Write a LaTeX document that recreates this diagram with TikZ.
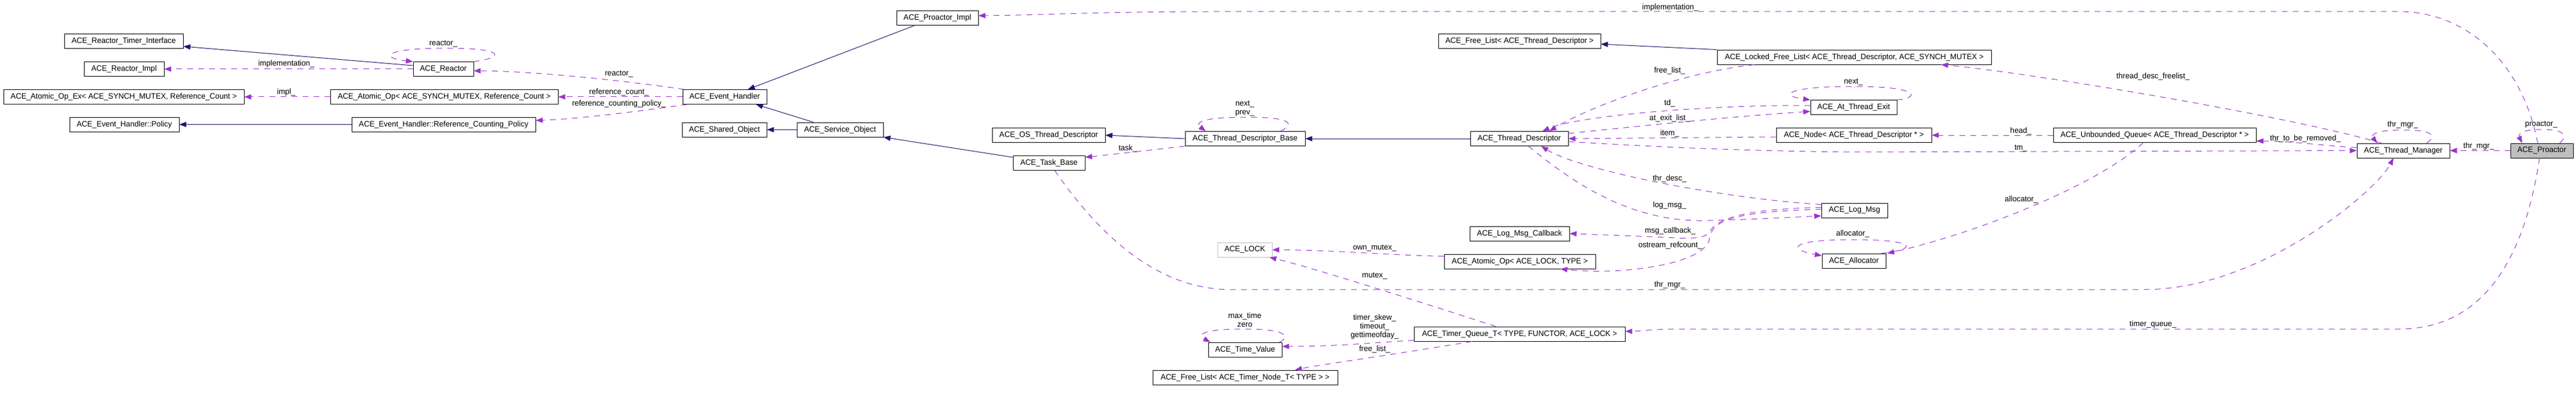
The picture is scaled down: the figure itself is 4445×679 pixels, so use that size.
\documentclass[tikz,border=0pt]{standalone}
\usepackage{fontspec}
\setmainfont{Liberation Sans}[FakeStretch=0.97]
\usetikzlibrary{arrows.meta}
\definecolor{inhcol}{HTML}{191970}
\definecolor{usecol}{HTML}{9A32CD}
\definecolor{graycol}{HTML}{BFBFBF}
\begin{document}
\begin{tikzpicture}[x=1pt,y=-1pt,
  box/.style={draw=black, line width=0.9pt, minimum height=25pt, inner sep=0pt, font=\fontsize{13.6}{15}\selectfont},
  lbl/.style={font=\fontsize{13.6}{15}\selectfont, inner sep=0pt, align=center},
  inh/.style={draw=inhcol, line width=1pt, -{Triangle[length=12pt,width=9pt]}},
  use/.style={draw=usecol, line width=1pt, dash pattern=on 10pt off 9pt, -{Triangle[length=12pt,width=9pt]}}]
\useasboundingbox[fill=white] (0,0) rectangle (4445,679);

% nodes
\node[box, minimum width=205pt] (RTI) at (213.5,71) {ACE\_Reactor\_Timer\_Interface};
\node[box, minimum width=138pt] (RImpl) at (214,119) {ACE\_Reactor\_Impl};
\node[box, minimum width=415pt] (AOEx) at (213.5,167) {ACE\_Atomic\_Op\_Ex< ACE\_SYNCH\_MUTEX, Reference\_Count >};
\node[box, minimum width=189pt] (Policy) at (214.5,214.5) {ACE\_Event\_Handler::Policy};
\node[box, minimum width=104pt] (Reactor) at (765,119) {ACE\_Reactor};
\node[box, minimum width=393pt] (AO) at (766.5,167) {ACE\_Atomic\_Op< ACE\_SYNCH\_MUTEX, Reference\_Count >};
\node[box, minimum width=317pt] (RCP) at (765.5,214.5) {ACE\_Event\_Handler::Reference\_Counting\_Policy};
\node[box, minimum width=145pt] (EH) at (1250.5,167) {ACE\_Event\_Handler};
\node[box, minimum width=146pt] (ShO) at (1250,223.5) {ACE\_Shared\_Object};
\node[box, minimum width=149pt] (SvO) at (1449.5,223.5) {ACE\_Service\_Object};
\node[box, minimum width=141pt] (PImpl) at (1617.5,30.5) {ACE\_Proactor\_Impl};
\node[box, minimum width=195pt] (OSTD) at (1809.5,233) {ACE\_OS\_Thread\_Descriptor};
\node[box, minimum width=124pt] (Task) at (1810,281) {ACE\_Task\_Base};
\node[box, minimum width=207pt] (TDB) at (2148.5,239) {ACE\_Thread\_Descriptor\_Base};
\node[box, minimum width=280pt] (FLTD) at (2622,71) {ACE\_Free\_List< ACE\_Thread\_Descriptor >};
\node[box, minimum width=169pt] (TD) at (2621.5,239) {ACE\_Thread\_Descriptor};
\node[box, minimum width=473pt] (LFL) at (3199.5,98.5) {ACE\_Locked\_Free\_List< ACE\_Thread\_Descriptor, ACE\_SYNCH\_MUTEX >};
\node[box, minimum width=149pt] (ATE) at (3198.5,185) {ACE\_At\_Thread\_Exit};
\node[box, minimum width=268pt] (Node) at (3199,233) {ACE\_Node< ACE\_Thread\_Descriptor * >};
\node[box, minimum width=350pt] (UQ) at (3718,233) {ACE\_Unbounded\_Queue< ACE\_Thread\_Descriptor * >};
\node[box, minimum width=160pt] (TM) at (4147,259.5) {ACE\_Thread\_Manager};
\node[box, minimum width=108pt, fill=graycol] (Pro) at (4386,259.5) {ACE\_Proactor};
\node[box, minimum width=94pt, draw=graycol] (LOCK) at (2148,430.5) {ACE\_LOCK};
\node[box, minimum width=127pt] (TV) at (2148.5,602.5) {ACE\_Time\_Value};
\node[box, minimum width=319pt] (FLTN) at (2148.5,650.5) {ACE\_Free\_List< ACE\_Timer\_Node\_T< TYPE > >};
\node[box, minimum width=172pt] (LMC) at (2622,402.5) {ACE\_Log\_Msg\_Callback};
\node[box, minimum width=261pt] (AOL) at (2622.5,450.5) {ACE\_Atomic\_Op< ACE\_LOCK, TYPE >};
\node[box, minimum width=364pt] (TQ) at (2622,575.5) {ACE\_Timer\_Queue\_T< TYPE, FUNCTOR, ACE\_LOCK >};
\node[box, minimum width=114pt] (LM) at (3200,362.5) {ACE\_Log\_Msg};
\node[box, minimum width=110pt] (Alloc) at (3199,449.5) {ACE\_Allocator};

% inheritance
\draw[inh] ([yshift=6pt]Reactor.west) -- ([yshift=-9pt]RTI.east);
\draw[inh] (RCP.west) -- (Policy.east);
\draw[inh] ([xshift=-38pt]PImpl.south) -- ([xshift=40pt]EH.north);
\draw[inh] ([xshift=-46pt]SvO.north) -- ([xshift=54pt]EH.south);
\draw[inh] (SvO.west) -- (ShO.east);
\draw[inh] ([yshift=-3pt]Task.north west) -- (SvO.south east);
\draw[inh] (TDB.west) -- (OSTD.east);
\draw[inh] (TD.west) -- (TDB.east);
\draw[inh] (LFL.north west) -- ([yshift=-5pt]FLTD.east);

% usage
\draw[use] (Reactor.north east) .. controls (870,100) and (875,83) .. (770,83) .. controls (660,83) and (655,100) .. (Reactor.north west);
\node[lbl] (l1) at (765,75) {reactor\_};
\draw[use] (Reactor.west) -- (RImpl.east);
\node[lbl] (l2) at (494,110) {implementation\_};
\draw[use] (AO.west) -- (AOEx.east);
\node[lbl] (l3) at (494,159) {impl\_};
\draw[use] ([xshift=3pt]EH.north west) .. controls (1050,135) and (900,122) .. ([yshift=-3pt]Reactor.east);
\node[lbl] (l4) at (1068,127) {reactor\_};
\draw[use] (EH.west) -- (AO.east);
\node[lbl] (l5) at (1068,159) {reference\_count\_};
\draw[use] ([xshift=8pt]EH.south west) .. controls (1100,192) and (1000,205) .. ([yshift=7pt]RCP.east);
\node[lbl] (l6) at (1068,179) {reference\_counting\_policy\_};
\draw[use] ([xshift=-7pt]Pro.north) .. controls (4350,100) and (4250,20) .. (4140,20) -- (2100,20) .. controls (1900,20) and (1800,26) .. ([yshift=3.5pt]PImpl.east);
\node[lbl] (l7) at (2882,13) {implementation\_};
\draw[use] ([xshift=61pt]TDB.north) .. controls (2232,215) and (2235,202) .. (2150,202) .. controls (2070,202) and (2062,212) .. ([xshift=-68pt]TDB.north);
\node[lbl] (l8) at (2148,187.5) {next\_\\prev\_};
\draw[use] (TDB.south west) .. controls (1990,258) and (1930,265) .. ([yshift=10pt]Task.east);
\node[lbl] (l9) at (1946,256) {task\_};
\draw[use] ([xshift=65pt]LFL.south west) .. controls (2900,125) and (2740,185) .. ([xshift=52pt]TD.north);
\node[lbl] (l10) at (2881,122) {free\_list\_};
\draw[use] ([yshift=3pt]ATE.west) .. controls (2950,180) and (2720,200) .. ([xshift=40pt]TD.north);
\node[lbl] (l11) at (2881,178) {td\_};
\draw[use] ([yshift=9pt]TD.east) .. controls (2850,215) and (3000,200) .. ([yshift=-7pt]ATE.west);
\node[lbl] (l12) at (2881,204) {at\_exit\_list\_};
\draw[use] (ATE.north east) .. controls (3310,170) and (3320,149) .. (3198,149) .. controls (3080,149) and (3070,165) .. (ATE.north west);
\node[lbl] (l13) at (3198,141) {next\_};
\draw[use] ([yshift=-3pt]Node.west) -- (TD.east);
\node[lbl] (l14) at (2881,230) {item\_};
\draw[use] ([yshift=-5pt]TD.east) .. controls (2850,253) and (3000,260) .. (3200,262) -- (TM.west);
\node[lbl] (l15) at (3487,255) {tm\_};
\draw[use] (UQ.west) -- (Node.east);
\node[lbl] (l16) at (3487,226) {head\_};
\draw[use] ([yshift=5pt]TM.west) .. controls (4000,250) and (3950,243) .. ([yshift=-10pt]UQ.east);
\node[lbl] (l17) at (3978,239) {thr\_to\_be\_removed\_};
\draw[use] ([xshift=-38pt]TM.north) .. controls (3950,200) and (3500,125) .. ([xshift=150pt]LFL.south);
\node[lbl] (l18) at (3715,132) {thread\_desc\_freelist\_};
\draw[use] ([xshift=40pt]TM.north) .. controls (4205,235) and (4200,224) .. (4147,224) .. controls (4100,224) and (4090,232) .. ([xshift=-45pt]TM.north);
\node[lbl] (l19) at (4146,215) {thr\_mgr\_};
\draw[use] ([xshift=-20pt]UQ.south) .. controls (3620,320) and (3400,405) .. ([xshift=2pt]Alloc.north east);
\node[lbl] (l20) at (3488,344) {allocator\_};
\draw[use] ([xshift=-8pt]Alloc.north east) .. controls (3310,430) and (3310,413) .. (3198,413) .. controls (3085,413) and (3085,430) .. ([yshift=-4pt]Alloc.north west);
\node[lbl] (l21) at (3197,403) {allocator\_};
\draw[use] ([yshift=10pt]LM.west) .. controls (2950,340) and (2720,290) .. ([xshift=38pt]TD.south);
\node[lbl] (l22) at (2881,308) {thr\_desc\_};
\draw[use] ([xshift=16pt]TD.south) .. controls (2720,320) and (2820,385) .. (2950,380) .. controls (3030,378) and (3100,374) .. ([yshift=-9.5pt]LM.west);
\node[lbl] (l23) at (2881,354) {log\_msg\_};
\draw[use] ([yshift=5pt]LM.west) .. controls (3000,360) and (2960,380) .. (2950,400) .. controls (2940,415) and (2900,410) .. (2850,408) -- (LMC.east);
\node[lbl] (l24) at (2882,398) {msg\_callback\_};
\draw[use] ([yshift=2pt]LM.west) .. controls (2990,365) and (2955,380) .. (2950,410) .. controls (2945,455) and (2800,475) .. ([xshift=70pt]AOL.south);
\node[lbl] (l25) at (2882,423) {ostream\_refcount\_};
\draw[use] ([yshift=9pt]AOL.west) .. controls (2400,440) and (2300,431) .. (LOCK.east);
\node[lbl] (l26) at (2372,427) {own\_mutex\_};
\draw[use] ([xshift=-41pt]TQ.north) .. controls (2450,520) and (2260,460) .. ([xshift=-5pt]LOCK.south east);
\node[lbl] (l27) at (2372,475) {mutex\_};
\draw[use] ([xshift=10pt]Task.south) .. controls (1880,380) and (1980,497) .. (2120,499) -- (3700,499) .. controls (3900,499) and (4100,330) .. ([xshift=-17pt]TM.south);
\node[lbl] (l28) at (2881,491) {thr\_mgr\_};
\draw[use] ([xshift=-4pt]Pro.south) .. controls (4360,420) and (4300,567) .. (4140,567) -- (2900,567) .. controls (2850,567) and (2830,571) .. ([yshift=4.5pt]TQ.east);
\node[lbl] (l29) at (3715,559) {timer\_queue\_};
\draw[use] ([yshift=-11pt]TQ.west) .. controls (2350,592) and (2300,597) .. ([yshift=5.5pt]TV.east);
\node[lbl] (l30) at (2372,563) {timer\_skew\_\\timeout\_\\gettimeofday\_};
\draw[use] ([xshift=-5pt]TV.north east) .. controls (2226,582) and (2225,567) .. (2148,567) .. controls (2070,567) and (2066,578) .. ([xshift=4pt]TV.north west);
\node[lbl] (l31) at (2148,551.5) {max\_time\\zero};
\draw[use] ([xshift=-82pt]TQ.south) .. controls (2400,612) and (2280,628) .. ([xshift=86pt]FLTN.north);
\node[lbl] (l32) at (2372,602) {free\_list\_};
\draw[use] (Pro.west) -- (TM.east);
\node[lbl] (l33) at (4277,252) {thr\_mgr\_};
\draw[use] ([xshift=31pt]Pro.north) .. controls (4430,235) and (4428,223) .. (4386,223) .. controls (4350,223) and (4345,232) .. ([xshift=-34pt]Pro.north);
\node[lbl] (l34) at (4385,215) {proactor\_};
\end{tikzpicture}
\end{document}
